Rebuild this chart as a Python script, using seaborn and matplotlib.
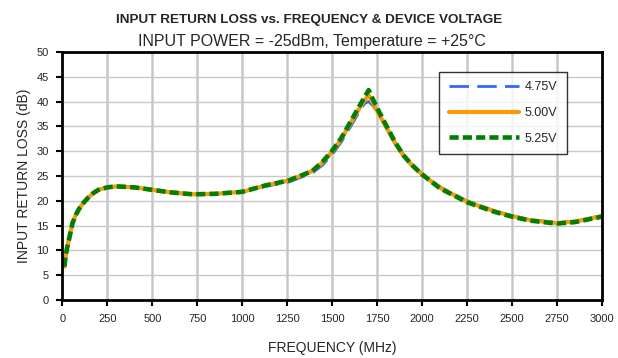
import numpy as np
import pandas as pd
import matplotlib
matplotlib.use('Agg')
import matplotlib.pyplot as plt
import seaborn as sns

# frequencia (MHz) e perda de retorno (dB)
freq = [11, 17, 25, 40, 56, 75, 90, 110, 140, 170, 200, 250, 300, 400, 500, 600,
        725, 850, 1000, 1130, 1260, 1390, 1450, 1500, 1550, 1600, 1650, 1680, 1703,
        1730, 1760, 1800, 1850, 1900, 1950, 2000, 2100, 2250, 2400, 2500, 2600,
        2750, 2850, 3000]
rl_475 = [6.7, 8.7, 10.3, 12.8, 15.5, 17.2, 18.2, 19.3, 20.5, 21.5, 22.2, 22.7, 22.9, 22.7, 22.2, 21.7,
          21.3, 21.4, 21.8, 22.9, 23.8, 25.6, 27.3, 29.3, 31.8, 34.8, 37.9, 39.6, 40.0,
          39.0, 37.3, 35.0, 31.8, 29.2, 27.1, 25.5, 22.8, 20.0, 18.0, 17.0, 16.2,
          15.6, 15.9, 17.0]
rl_500 = [6.7, 8.7, 10.3, 12.8, 15.5, 17.2, 18.2, 19.3, 20.5, 21.5, 22.2, 22.7, 22.9, 22.7, 22.2, 21.7,
          21.3, 21.4, 21.8, 23.1, 24.1, 26.0, 27.8, 29.9, 32.4, 35.5, 38.6, 40.3, 41.3,
          39.5, 37.4, 34.9, 31.6, 28.9, 26.9, 25.3, 22.6, 19.8, 17.9, 16.9, 16.1,
          15.5, 15.8, 16.9]
rl_525 = [6.7, 8.7, 10.3, 12.8, 15.5, 17.2, 18.2, 19.3, 20.5, 21.5, 22.2, 22.7, 22.9, 22.7, 22.2, 21.7,
          21.3, 21.4, 21.8, 23.1, 24.1, 26.0, 28.0, 30.1, 32.6, 35.8, 39.0, 40.9, 42.3,
          40.2, 38.0, 35.2, 31.8, 29.0, 27.0, 25.3, 22.5, 19.7, 17.8, 16.8, 16.0,
          15.4, 15.7, 16.8]
tensoes = ['4.75V', '5.00V', '5.25V']

df = pd.DataFrame({
    'freq': freq * 3,
    'rl': rl_475 + rl_500 + rl_525,
    'tensao': [tensoes[0]] * len(freq) + [tensoes[1]] * len(freq) + [tensoes[2]] * len(freq),
})

sns.set_style('white')
plt.rcParams['font.family'] = ['Liberation Sans', 'DejaVu Sans']

fig = plt.figure(figsize=(6.18, 3.58), dpi=100)
ax = fig.add_axes([0.101, 0.162, 0.873, 0.693])

cores = {'4.75V': '#3366FF', '5.00V': '#FF9900', '5.25V': '#008000'}
estilos = {'4.75V': (0, (7, 3)), '5.00V': '-', '5.25V': (0, (2.0, 0.9))}
larguras = {'4.75V': 2.0, '5.00V': 3.0, '5.25V': 3.3}

for t in tensoes:
    sns.lineplot(data=df[df['tensao'] == t], x='freq', y='rl', color=cores[t],
                 linestyle=estilos[t], linewidth=larguras[t], label=t, ax=ax)

ax.set_xlim(0, 3000)
ax.set_ylim(0, 50)
ax.set_xticks(np.arange(0, 3001, 250))
ax.set_yticks(np.arange(0, 51, 5))
ax.tick_params(axis='both', labelsize=8, direction='out', length=4, width=1.5,
               color='black', left=True, bottom=True, pad=6)
for x in np.arange(250, 3000, 250):
    ax.axvline(x, color='#C8C8C8', lw=1.8, zorder=0)
for y in np.arange(5, 50, 5):
    ax.axhline(y, color='#C8C8C8', lw=1.0, zorder=0)
for s in ax.spines.values():
    s.set_color('black')
    s.set_linewidth(2)

ax.set_xlabel('FREQUENCY (MHz)', fontsize=10, labelpad=12)
ax.set_ylabel('INPUT RETURN LOSS (dB)', fontsize=10, labelpad=4)

fig.text(0.500, 0.945, 'INPUT RETURN LOSS vs. FREQUENCY & DEVICE VOLTAGE',
         ha='center', va='center', fontsize=9.7, fontweight='bold')
fig.text(0.505, 0.885, 'INPUT POWER = -25dBm, Temperature = +25°C',
         ha='center', va='center', fontsize=11.5)

leg = ax.legend(loc='upper right', bbox_to_anchor=(0.935, 0.92), fontsize=9,
                frameon=True, fancybox=False, edgecolor='black', handlelength=5.6,
                handletextpad=0.5, labelspacing=1.1, borderpad=0.75, borderaxespad=0)
leg.get_frame().set_linewidth(1.0)

plt.savefig('out.png', dpi=100)
plt.close()
